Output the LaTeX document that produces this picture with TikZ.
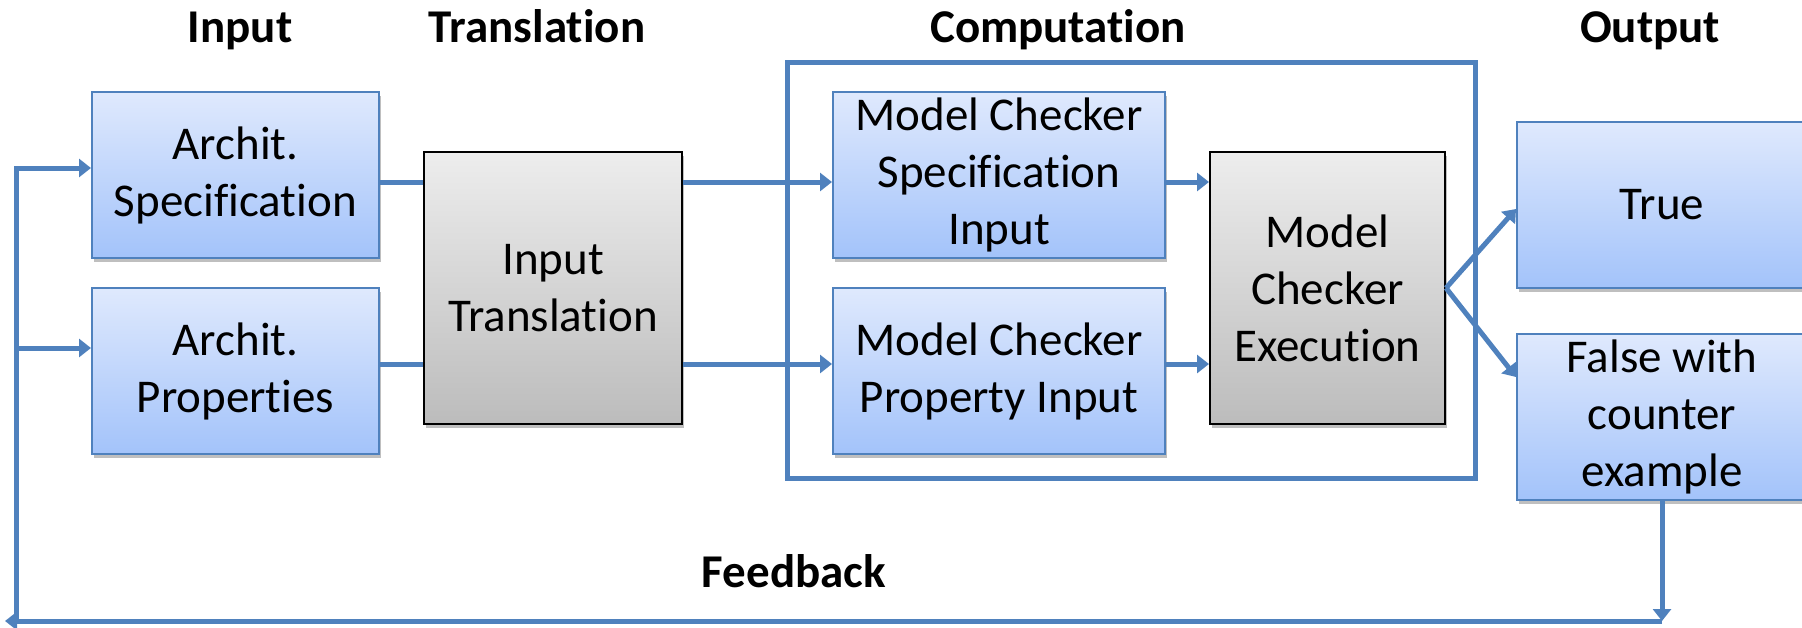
\documentclass[tikz,border=0pt]{standalone}
\usepackage{fontspec}
\setmainfont{Carlito}[Ligatures=NoCommon]
\usetikzlibrary{arrows.meta,shadows}

\definecolor{lineblue}{HTML}{4F81BD}
\definecolor{boxtop}{HTML}{DFE9FD}
\definecolor{boxbottom}{HTML}{A3C3FA}
\definecolor{greytop}{HTML}{EDEDED}
\definecolor{greybottom}{HTML}{BCBCBC}

\tikzset{
  boxtext/.style={font=\fontsize{23.5pt}{28.5pt}\selectfont, align=center, inner sep=0pt},
  heading/.style={font=\bfseries\fontsize{23.5pt}{28.5pt}\selectfont, inner sep=0pt},
  bluebox/.style={boxtext, draw=lineblue, line width=1pt, top color=boxtop, bottom color=boxbottom,
    drop shadow={shadow xshift=1pt, shadow yshift=-2pt, opacity=0.25, fill=black}},
  greybox/.style={boxtext, draw=black, line width=1pt, top color=greytop, bottom color=greybottom,
    drop shadow={shadow xshift=1pt, shadow yshift=-2pt, opacity=0.25, fill=black}},
  frame/.style={draw=lineblue, line width=2.5pt},
  link/.style={draw=lineblue, line width=2.5pt},
  flow/.style={link, -{Triangle[length=6pt,width=9pt]}}
}

\begin{document}
\begin{tikzpicture}[x=0.5pt,y=-0.5pt]
  \useasboundingbox (0,0) rectangle (1802,627);
  \clip (0,0) rectangle (1802,627);

  \node[heading,anchor=base] (hinput) at (240,42) {Input};
  \node[heading,anchor=base] (htrans) at (537,42) {Translation};
  \node[heading,anchor=base] (hcomp) at (1058,42) {Computation};
  \node[heading,anchor=base] (hout) at (1650,42) {Output};
  \node[heading] (hfeed) at (794,571) {Feedback};

  \draw[frame] (787,62) rectangle (1475,478);

  \node[bluebox,minimum width=143.5pt,minimum height=83pt] (spec) at (235.5,175) {Archit.\\Specification};
  \node[bluebox,minimum width=143.5pt,minimum height=83pt] (prop) at (235.5,371) {Archit.\\Properties};
  \node[greybox,minimum width=129pt,minimum height=136pt] (trans) at (553,288) {Input\\Translation};
  \node[bluebox,minimum width=166pt,minimum height=83pt] (mcspec) at (999,175) {Model Checker\\Specification\\Input};
  \node[bluebox,minimum width=166pt,minimum height=83pt] (mcprop) at (999,371) {Model Checker\\Property Input};
  \node[greybox,minimum width=117.5pt,minimum height=136pt] (exec) at (1327.5,288) {Model\\Checker\\Execution};
  \node[bluebox,minimum width=145pt,minimum height=83pt] (true) at (1662,205) {True};
  \node[bluebox,minimum width=145pt,minimum height=83pt] (false) at (1662,417) {False with\\counter\\example};

  \coordinate (rowa) at (0,182);
  \coordinate (rowb) at (0,364);
  \coordinate (fbtop) at (16,168);
  \coordinate (fbmid) at (16,348);
  \coordinate (fbcorner) at (16,621);
  \coordinate (fbend) at (5,621);

  \draw[link] (spec.east |- rowa) -- (trans.west |- rowa);
  \draw[link] (prop.east |- rowb) -- (trans.west |- rowb);
  \draw[flow] (trans.east |- rowa) -- (mcspec.west |- rowa);
  \draw[flow] (trans.east |- rowb) -- (mcprop.west |- rowb);
  \draw[flow] (mcspec.east |- rowa) -- (exec.west |- rowa);
  \draw[flow] (mcprop.east |- rowb) -- (exec.west |- rowb);
  \draw[flow] (exec.east) -- ([yshift=-2pt]true.west);
  \draw[flow] (exec.east) -- ([yshift=20pt]false.west);
  \draw[flow] (false.south) -- (false.south |- fbcorner);
  \draw[flow] (false.south |- fbcorner) -- (fbend);
  \draw[flow] (fbcorner) -- (fbtop) -- (spec.west |- fbtop);
  \draw[flow] (fbmid) -- (prop.west |- fbmid);
\end{tikzpicture}
\end{document}
